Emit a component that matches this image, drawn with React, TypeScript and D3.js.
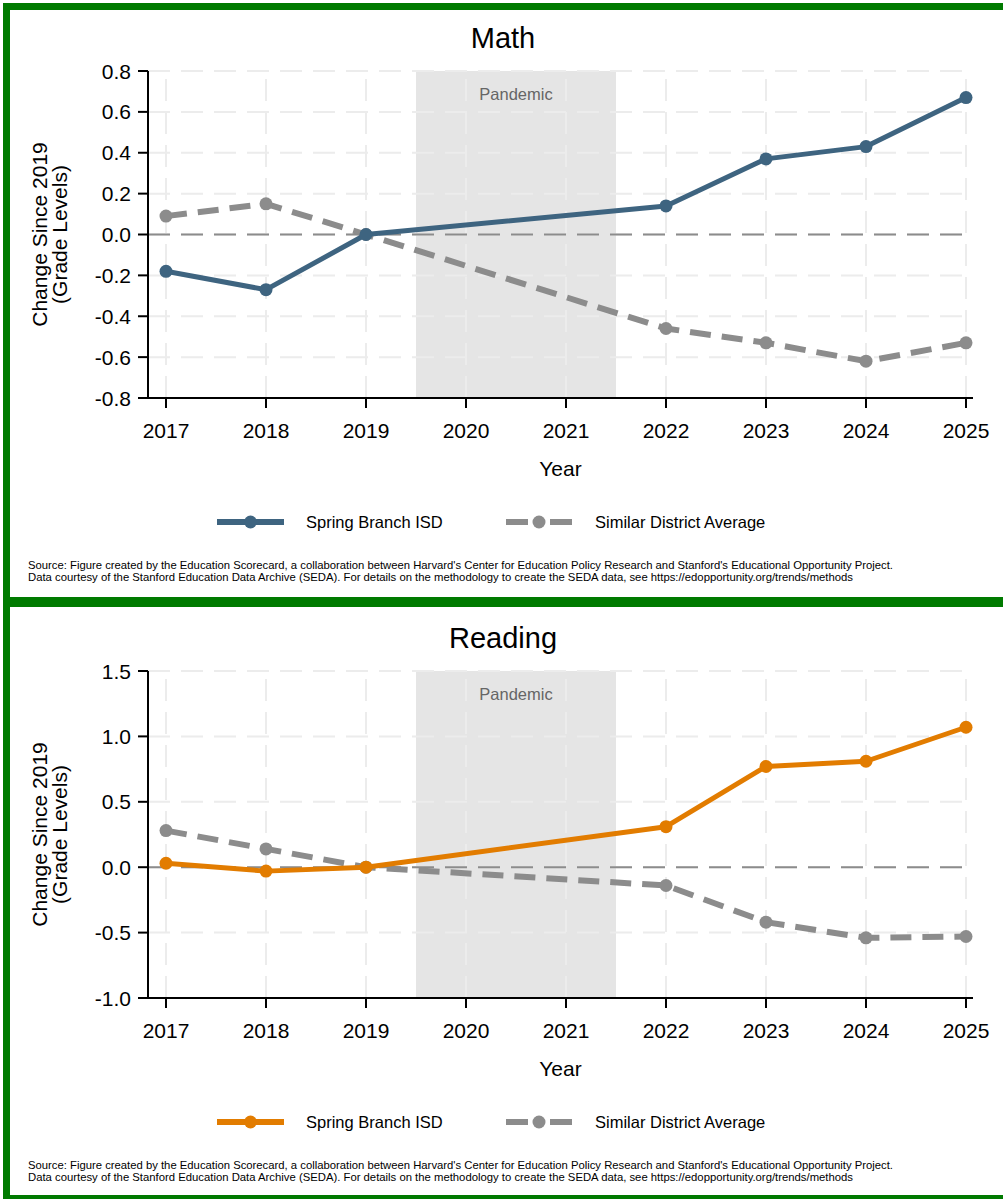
import React from 'react';
import * as d3 from 'd3';

// values
const years = [2017, 2018, 2019, 2022, 2023, 2024, 2025];
const tickYears = [2017, 2018, 2019, 2020, 2021, 2022, 2023, 2024, 2025];

const mathDistrict = [-0.18, -0.27, 0, 0.14, 0.37, 0.43, 0.67];
const mathSimilar = [0.09, 0.15, 0, -0.46, -0.53, -0.62, -0.53];
const mathTicks = [-0.8, -0.6, -0.4, -0.2, 0, 0.2, 0.4, 0.6, 0.8];

const readingDistrict = [0.03, -0.03, 0, 0.31, 0.77, 0.81, 1.07];
const readingSimilar = [0.28, 0.14, 0, -0.14, -0.42, -0.54, -0.53];
const readingTicks = [-1.0, -0.5, 0, 0.5, 1.0, 1.5];

const pandemic = [2019.5, 2021.5];
const seriesNames = ['Spring Branch ISD', 'Similar District Average'];
const sourceLines = [
  "Source: Figure created by the Education Scorecard, a collaboration between Harvard's Center for Education Policy Research and Stanford's Educational Opportunity Project.",
  'Data courtesy of the Stanford Education Data Archive (SEDA). For details on the methodology to create the SEDA data, see https://edopportunity.org/trends/methods',
];

const FONT = 'Liberation Sans, Arial, Helvetica, sans-serif';
const GREY = '#8c8c8c';
const GREEN = '#007a00';

// plain hyphen instead of d3's unicode minus
const fmt1 = (v: number) => d3.format('.1f')(v).replace('\u2212', '-');

type PanelProps = {
  offset: number;
  title: string;
  district: number[];
  similar: number[];
  ticks: number[];
  domain: [number, number];
  color: string;
};

function Panel({ offset, title, district, similar, ticks, domain, color }: PanelProps) {
  const left = 148, right = 973, top = 71, bottom = 398;
  const x = d3.scaleLinear().domain([2017, 2025]).range([166, 966]);
  const y = d3.scaleLinear().domain(domain).range([bottom, top]);
  const line = d3.line<number>().x((_, i) => x(years[i])).y(d => y(d));
  const midY = (top + bottom) / 2;

  return (
    <g transform={`translate(0,${offset})`} fontFamily={FONT}>
      <text x={503} y={48} fontSize={29} textAnchor="middle" fill="#000">{title}</text>

      {/* pandemic band */}
      <rect x={x(pandemic[0])} y={top} width={x(pandemic[1]) - x(pandemic[0])} height={bottom - top} fill="#e5e5e5" />
      <text x={(x(pandemic[0]) + x(pandemic[1])) / 2} y={100} fontSize={16.5} textAnchor="middle" fill="#666">Pandemic</text>

      {/* grid */}
      {ticks.map(t => (
        <line key={'h' + t} x1={left} x2={right} y1={y(t)} y2={y(t)} stroke="#ececec" strokeWidth={2} strokeDasharray="22,11" />
      ))}
      {tickYears.map(t => (
        <line key={'v' + t} x1={x(t)} x2={x(t)} y1={bottom} y2={top} stroke="#ececec" strokeWidth={2} strokeDasharray="22,11" />
      ))}
      <line x1={left} x2={right} y1={y(0)} y2={y(0)} stroke={GREY} strokeWidth={2} strokeDasharray="22,11" />

      {/* similar district average */}
      <path d={line(similar) || ''} fill="none" stroke={GREY} strokeWidth={6} strokeDasharray="21,11" />
      {similar.map((v, i) => (
        <circle key={'s' + i} cx={x(years[i])} cy={y(v)} r={6.5} fill={GREY} />
      ))}

      {/* district */}
      <path d={line(district) || ''} fill="none" stroke={color} strokeWidth={5} strokeLinejoin="round" />
      {district.map((v, i) => (
        <circle key={'d' + i} cx={x(years[i])} cy={y(v)} r={6.5} fill={color} />
      ))}

      {/* axes */}
      <line x1={left} x2={left} y1={top} y2={bottom + 1} stroke="#000" strokeWidth={2} />
      <line x1={left - 1} x2={right} y1={bottom} y2={bottom} stroke="#000" strokeWidth={2} />
      {ticks.map(t => (
        <g key={'yt' + t}>
          <line x1={left - 10} x2={left} y1={y(t)} y2={y(t)} stroke="#000" strokeWidth={2} />
          <text x={131} y={y(t) + 7.5} fontSize={21} textAnchor="end" fill="#000">{fmt1(t)}</text>
        </g>
      ))}
      {tickYears.map(t => (
        <g key={'xt' + t}>
          <line x1={x(t)} x2={x(t)} y1={bottom} y2={bottom + 10} stroke="#000" strokeWidth={2} />
          <text x={x(t)} y={438} fontSize={21} textAnchor="middle" fill="#000">{t}</text>
        </g>
      ))}
      <text x={(left + right) / 2} y={476} fontSize={21} textAnchor="middle" fill="#000">Year</text>
      <text transform={`translate(47,${midY}) rotate(-90)`} fontSize={21} textAnchor="middle" fill="#000">Change Since 2019</text>
      <text transform={`translate(67,${midY}) rotate(-90)`} fontSize={21} textAnchor="middle" fill="#000">(Grade Levels)</text>

      {/* legend */}
      <line x1={217} x2={284} y1={522} y2={522} stroke={color} strokeWidth={6} />
      <circle cx={250.5} cy={522} r={6.5} fill={color} />
      <text x={306} y={528} fontSize={16.5} fill="#000">{seriesNames[0]}</text>
      <line x1={506} x2={572} y1={522} y2={522} stroke={GREY} strokeWidth={6} strokeDasharray="22,22" />
      <circle cx={539} cy={522} r={6.5} fill={GREY} />
      <text x={595} y={528} fontSize={16.5} fill="#000">{seriesNames[1]}</text>

      {/* source */}
      <text x={28} y={569} fontSize={11} fill="#000" textLength={865} lengthAdjust="spacingAndGlyphs">{sourceLines[0]}</text>
      <text x={28} y={581} fontSize={11} fill="#000" textLength={825} lengthAdjust="spacingAndGlyphs">{sourceLines[1]}</text>
    </g>
  );
}

export default function App() {
  return (
    <div style={{ position: 'absolute', left: 0, top: 0 }}>
      <svg width={1003} height={1199} style={{ display: 'block', background: '#fff' }}>
        <rect x={0} y={0} width={1003} height={1199} fill="#fff" />
        {/* green frame */}
        <rect x={3} y={3} width={1000} height={7} fill={GREEN} />
        <rect x={3} y={3} width={7} height={1196} fill={GREEN} />
        <rect x={3} y={597} width={1000} height={10} fill={GREEN} />
        <rect x={3} y={1195} width={1000} height={4} fill={GREEN} />

        <Panel offset={0} title="Math" district={mathDistrict} similar={mathSimilar} ticks={mathTicks}
          domain={[-0.8, 0.8]} color="#3e6480" />
        <Panel offset={600} title="Reading" district={readingDistrict} similar={readingSimilar} ticks={readingTicks}
          domain={[-1.0, 1.5]} color="#e27c00" />
      </svg>
    </div>
  );
}
